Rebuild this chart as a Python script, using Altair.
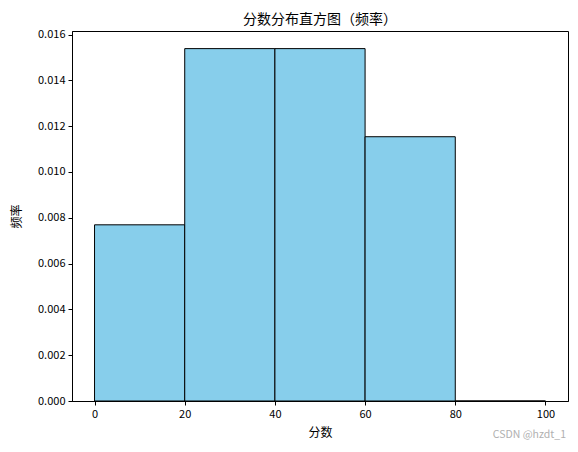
import altair as alt
import pandas as pd

bin_start = [0, 20, 40, 60, 80]
bin_end = [20, 40, 60, 80, 100]
density = [0.007692, 0.015385, 0.015385, 0.011538, 0.0]
x_ticks = [0, 20, 40, 60, 80, 100]
y_ticks = [0.0, 0.002, 0.004, 0.006, 0.008, 0.010, 0.012, 0.014, 0.016]
watermark_text = ["CSDN @hzdt_1"]

df = pd.DataFrame({"start": bin_start, "end": bin_end, "density": density, "base": [0.0] * 5})

FONT = "Noto Sans CJK SC"

bars = alt.Chart(df).mark_rect(color="#87CEEB", stroke="black", strokeWidth=1).encode(
    x=alt.X("start:Q", scale=alt.Scale(domain=[-5, 105], nice=False, zero=False),
            axis=alt.Axis(values=x_ticks, title="分数", format="d", grid=False,
                          tickColor="black", domainColor="black", tickSize=4,
                          labelColor="black", labelFontSize=11, titleFontSize=12,
                          titleFontWeight="normal", labelFont=FONT, titleFont=FONT,
                          titlePadding=8, labelPadding=3)),
    x2="end:Q",
    y=alt.Y("density:Q", scale=alt.Scale(domain=[0, 0.016154], nice=False),
            axis=alt.Axis(values=y_ticks, title="频率", format=".3f", grid=False,
                          tickColor="black", domainColor="black", tickSize=4,
                          labelColor="black", labelFontSize=11, titleFontSize=12,
                          titleFontWeight="normal", labelFont=FONT, titleFont=FONT,
                          titlePadding=14, labelPadding=3)),
    y2="base:Q",
)

watermark = alt.Chart(pd.DataFrame({"t": watermark_text})).mark_text(
    align="right", baseline="middle", font=FONT, fontSize=10.5, color="#B0B0B0"
).encode(text="t:N", x=alt.value(494), y=alt.value(404))

chart = (bars + watermark).properties(
    width=496, height=370,
    title=alt.TitleParams("分数分布直方图（频率）", font=FONT, fontSize=14, fontWeight="normal",
                          color="black", offset=2),
    autosize=alt.AutoSizeParams(type="pad"),
    padding={"left": 2, "top": 4, "right": 2, "bottom": 2},
).configure_view(stroke="black", strokeWidth=1)

chart.save("out.html", embed_options={"renderer": "svg", "actions": False})
